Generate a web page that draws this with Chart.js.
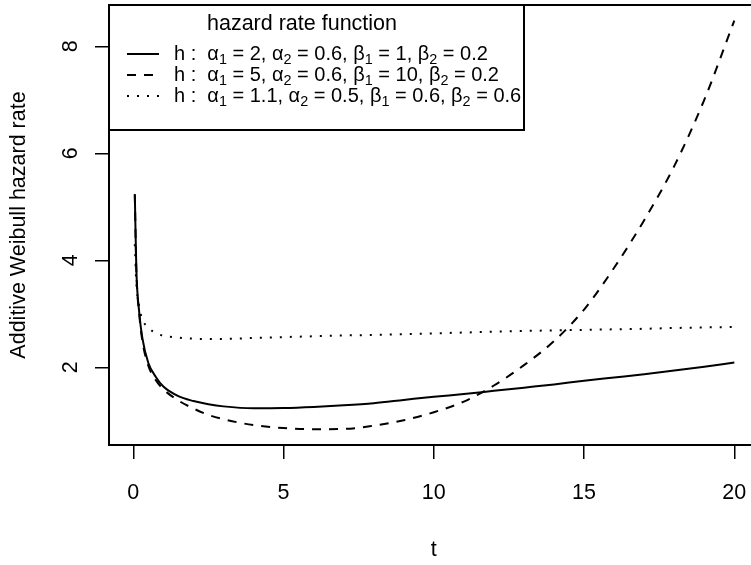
<!DOCTYPE html>
<html>
<head>
<meta charset="utf-8">
<script src="https://cdn.jsdelivr.net/npm/chart.js@4.4.1/dist/chart.umd.min.js"></script>
<style>
  html, body { margin: 0; padding: 0; background: #fff; overflow: hidden; }
  #chart { display: block; }
</style>
</head>
<body>
<canvas id="chart" width="751" height="565"></canvas>
<script>
// values
const tValues = [0.05, 0.1, 0.2, 0.3, 0.5, 0.75, 1, 1.5, 2, 2.5, 3, 4, 5, 6, 7, 8, 9, 10, 11, 12, 13, 14, 15, 16, 17, 18, 19, 20];
const hazardSolid = [5.24, 3.85, 3.01, 2.55, 2.08, 1.82, 1.64, 1.46, 1.37, 1.31, 1.27, 1.235, 1.24, 1.26, 1.29, 1.33, 1.39, 1.45, 1.5, 1.56, 1.62, 1.68, 1.75, 1.81, 1.87, 1.94, 2.01, 2.09];
const hazardDashed = [5.22, 3.83, 2.98, 2.5, 2.03, 1.76, 1.59, 1.38, 1.23, 1.11, 1.03, 0.92, 0.865, 0.842, 0.848, 0.91, 1.01, 1.16, 1.36, 1.66, 2.04, 2.49, 3.08, 3.86, 4.75, 5.76, 7.0, 8.48];
const hazardDotted = [4.3, 3.58, 3.12, 2.9, 2.74, 2.64, 2.59, 2.555, 2.535, 2.53, 2.53, 2.55, 2.565, 2.58, 2.595, 2.605, 2.62, 2.635, 2.65, 2.665, 2.68, 2.69, 2.7, 2.71, 2.72, 2.735, 2.745, 2.755];

const xTicks = [0, 5, 10, 15, 20];
const yTicks = [2, 4, 6, 8];

const legendTitle = "hazard rate function";
const legendLabels = [
  "h :  α₁ = 2, α₂ = 0.6, β₁ = 1, β₂ = 0.2",
  "h :  α₁ = 5, α₂ = 0.6, β₁ = 10, β₂ = 0.2",
  "h :  α₁ = 1.1, α₂ = 0.5, β₁ = 0.6, β₂ = 0.6",
];
const xTitle = "t";
const yTitle = "Additive Weibull hazard rate";

// layout / style
const FONT = '"Liberation Sans", Arial, Helvetica, sans-serif';
const TEXT_SIZE = 21.5;
const LEGEND_SIZE = 20;
const FRAME = { left: 109, top: 5, bottom: 445 };
const DASHES = [[], [9, 8], [2, 8]];

const toPoints = (ys) => tValues.map((t, i) => ({ x: t, y: ys[i] }));

// draws a string, turning unicode subscript digits into small lowered digits
const drawRich = (ctx, text, x, y, size) => {
  const runs = [];
  for (const ch of text) {
    const code = ch.codePointAt(0);
    const sub = code >= 0x2080 && code <= 0x2089;
    const c = sub ? String.fromCharCode(48 + code - 0x2080) : ch;
    const last = runs[runs.length - 1];
    if (last && last.sub === sub) last.s += c;
    else runs.push({ s: c, sub });
  }
  let cx = x;
  ctx.textAlign = "left";
  ctx.textBaseline = "middle";
  runs.forEach((r) => {
    const fs = r.sub ? size * 0.72 : size;
    ctx.font = `${fs}px ${FONT}`;
    ctx.fillText(r.s, cx, r.sub ? y + size * 0.28 : y);
    cx += ctx.measureText(r.s).width;
  });
};

const framePlugin = {
  id: "frame",
  afterDatasetsDraw(chart) {
    const { ctx, width } = chart;
    ctx.save();
    ctx.strokeStyle = "#000";
    ctx.lineWidth = 2;
    ctx.beginPath();
    ctx.moveTo(width + 2, FRAME.top);
    ctx.lineTo(FRAME.left, FRAME.top);
    ctx.lineTo(FRAME.left, FRAME.bottom);
    ctx.lineTo(width + 2, FRAME.bottom);
    ctx.stroke();
    ctx.restore();
  },
};

const axisTextPlugin = {
  id: "axisText",
  afterDraw(chart) {
    const { ctx } = chart;
    const xs = chart.scales.x;
    const ys = chart.scales.y;
    ctx.save();
    ctx.fillStyle = "#000";
    ctx.font = `${TEXT_SIZE}px ${FONT}`;
    ctx.textAlign = "center";
    ctx.textBaseline = "middle";
    xTicks.forEach((v) => ctx.fillText(String(v), xs.getPixelForValue(v), 493));
    yTicks.forEach((v) => {
      ctx.save();
      ctx.translate(71, ys.getPixelForValue(v));
      ctx.rotate(-Math.PI / 2);
      ctx.fillText(String(v), 0, 0);
      ctx.restore();
    });
    ctx.fillText(xTitle, xs.getPixelForValue(10), 550);
    ctx.save();
    ctx.translate(19, (FRAME.top + FRAME.bottom) / 2);
    ctx.rotate(-Math.PI / 2);
    ctx.fillText(yTitle, 0, 0);
    ctx.restore();
    ctx.restore();
  },
};

const legendPlugin = {
  id: "boxLegend",
  afterDraw(chart) {
    const { ctx } = chart;
    const box = { x: FRAME.left, y: FRAME.top, w: 415, h: 125 };
    const rows = [54, 75, 96];
    ctx.save();
    ctx.strokeStyle = "#000";
    ctx.lineWidth = 2;
    ctx.strokeRect(box.x, box.y, box.w, box.h);
    ctx.fillStyle = "#000";
    ctx.font = `${TEXT_SIZE}px ${FONT}`;
    ctx.textAlign = "center";
    ctx.textBaseline = "middle";
    ctx.fillText(legendTitle, 302, 24);
    legendLabels.forEach((label, i) => {
      const ds = chart.data.datasets[i];
      ctx.save();
      ctx.lineWidth = ds.borderWidth;
      ctx.setLineDash(ds.borderDash);
      ctx.beginPath();
      ctx.moveTo(127, rows[i]);
      ctx.lineTo(159, rows[i]);
      ctx.stroke();
      ctx.restore();
      drawRich(ctx, label, 174, rows[i], LEGEND_SIZE);
    });
    ctx.restore();
  },
};

const makeDataset = (label, ys, dash) => ({
  label,
  data: toPoints(ys),
  borderColor: "#000",
  backgroundColor: "#000",
  borderWidth: 2,
  borderDash: dash,
  pointRadius: 0,
  fill: false,
  cubicInterpolationMode: "monotone",
});

new Chart(document.getElementById("chart"), {
  type: "line",
  data: {
    datasets: [
      makeDataset(legendLabels[0], hazardSolid, DASHES[0]),
      makeDataset(legendLabels[1], hazardDashed, DASHES[1]),
      makeDataset(legendLabels[2], hazardDotted, DASHES[2]),
    ],
  },
  options: {
    responsive: false,
    animation: false,
    devicePixelRatio: 1,
    layout: { padding: { top: FRAME.top, right: 0, bottom: 0, left: 0 } },
    plugins: { legend: { display: false }, tooltip: { enabled: false } },
    scales: {
      x: {
        type: "linear",
        min: -0.809,
        max: 20.555,
        afterBuildTicks: (s) => { s.ticks = xTicks.map((v) => ({ value: v })); },
        afterFit: (s) => { s.height = 565 - FRAME.bottom; },
        ticks: { display: false },
        border: { display: false },
        grid: { drawOnChartArea: false, drawTicks: true, tickLength: 14, color: "#000", lineWidth: 1.5 },
      },
      y: {
        type: "linear",
        min: 0.548,
        max: 8.772,
        afterBuildTicks: (s) => { s.ticks = yTicks.map((v) => ({ value: v })); },
        afterFit: (s) => { s.width = FRAME.left; },
        ticks: { display: false },
        border: { display: false },
        grid: { drawOnChartArea: false, drawTicks: true, tickLength: 14, color: "#000", lineWidth: 1.5 },
      },
    },
  },
  plugins: [framePlugin, axisTextPlugin, legendPlugin],
});
</script>
</body>
</html>
